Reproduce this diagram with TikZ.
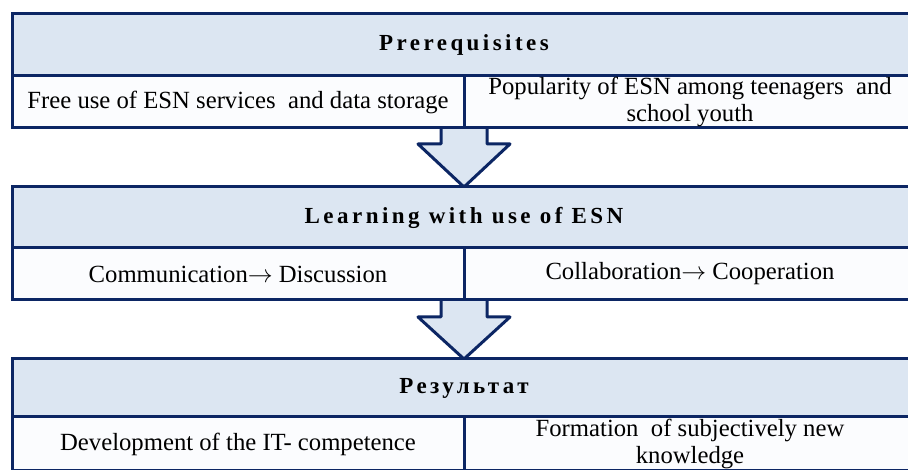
\documentclass[tikz,border=0pt]{standalone}
\usepackage{fontspec}
\setmainfont{Liberation Serif}
\newfontfamily\headfont{Liberation Serif}[LetterSpace=15]
\usepackage{xcolor}
\usetikzlibrary{positioning,calc}
\usetikzlibrary{backgrounds}
\definecolor{framenavy}{RGB}{12,38,100}
\definecolor{headfill}{RGB}{220,230,242}
\definecolor{cellfill}{RGB}{251,252,254}
\tikzset{
	headbar/.style={draw=framenavy,line width=3pt,fill=headfill,minimum width=904pt,minimum height=62pt,inner sep=0pt,outer sep=0pt,font=\headfont\bfseries\fontsize{23}{27}\selectfont},
	cellbox/.style={draw=framenavy,line width=3pt,fill=cellfill,minimum width=452pt,minimum height=52pt,inner sep=0pt,outer sep=0pt,align=center,font=\rmfamily\fontsize{24.7}{27}\selectfont},
	blockarrow/.style={draw=framenavy,line width=3pt,fill=headfill,line join=round},
}

\begin{document}
\begin{tikzpicture}[x=1pt,y=1pt]
	\useasboundingbox (0,0) rectangle (908,470);
	
	% Prerequisites
	\node[headbar] (pre) at (464,425) {Prerequisites};
	\node[cellbox,anchor=north west] (preA) at (pre.south west) {Free use of ESN services~ and data storage};
	\node[cellbox,anchor=north west] (preB) at (preA.north east) {Popularity of ESN among teenagers~ and\\school youth};
	
	% Learning
	\node[headbar,below=59pt of preA.south east,minimum height=61pt] (learn) {Learning with use of ESN};
	\node[cellbox,anchor=north west] (learnA) at (learn.south west) {Communication$\rightarrow$ Discussion};
	\node[cellbox,anchor=north west] (learnB) at (learnA.north east) {Collaboration$\rightarrow$ Cooperation};
	
	% Result
	\node[headbar,below=59pt of learnA.south east,minimum height=58pt] (res) {Результат};
	\node[cellbox,anchor=north west,minimum height=54pt] (resA) at (res.south west) {Development of the IT- competence};
	\node[cellbox,anchor=north west,minimum height=54pt] (resB) at (resA.north east) {Formation~ of subjectively new\\knowledge};
	
	% Block arrows
	\begin{scope}[on background layer]
		\draw[blockarrow] ($(preA.south east)+(-23,4)$) -- ($(preA.south east)+(-23,-16)$) -- ++(-23,0) -- (learn.north) -- ($(preA.south east)+(46,-16)$) -- ++(-23,0) -- ($(preA.south east)+(23,4)$);
		\draw[blockarrow] ($(learnA.south east)+(-23,4)$) -- ($(learnA.south east)+(-23,-17)$) -- ++(-23,0) -- (res.north) -- ($(learnA.south east)+(46,-17)$) -- ++(-23,0) -- ($(learnA.south east)+(23,4)$);
	\end{scope}
\end{tikzpicture}
\end{document}
